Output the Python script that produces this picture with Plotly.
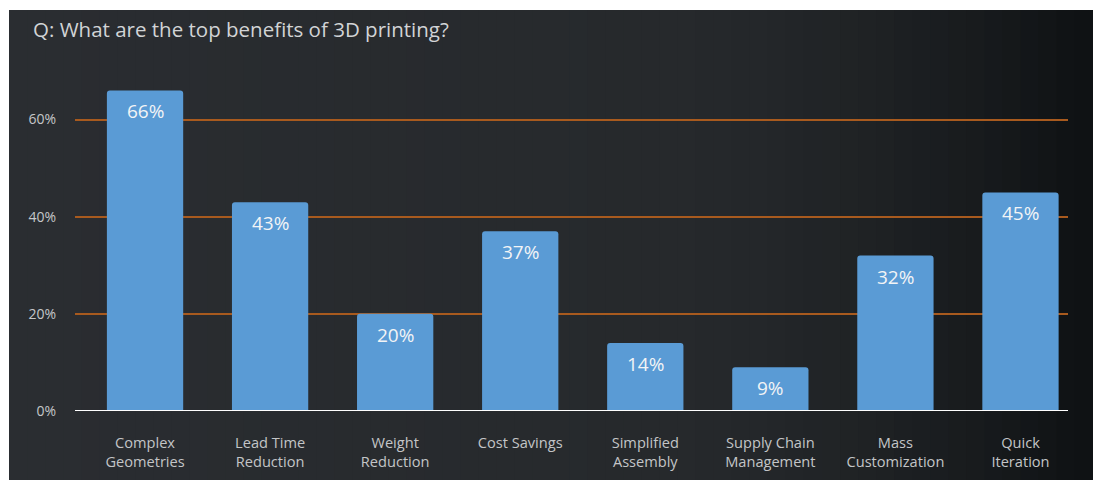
import plotly.graph_objects as go

categories = ["Complex<br>Geometries", "Lead Time<br>Reduction", "Weight<br>Reduction",
              "Cost Savings", "Simplified<br>Assembly", "Supply Chain<br>Management",
              "Mass<br>Customization", "Quick<br>Iteration"]
values = [66, 43, 20, 37, 14, 9, 32, 45]
value_labels = ["66%", "43%", "20%", "37%", "14%", "9%", "32%", "45%"]
y_ticks = [0, 20, 40, 60]
y_tick_labels = ["0%", "20%", "40%", "60%"]

W, H = 1093, 481
BAR = "#5a9bd5"

fig = go.Figure()
fig.add_trace(go.Bar(
    x=list(range(len(categories))), y=values,
    marker=dict(color=BAR, line=dict(width=0)),
    width=0.61, hoverinfo="skip",
))

# value labels inside bars near top
for i, (v, t) in enumerate(zip(values, value_labels)):
    fig.add_annotation(x=i, y=v, text=t, showarrow=False, yanchor="middle",
                       yshift=-21, font=dict(family="Open Sans", size=19, color="#f2f4f6"))

# background panel with horizontal gradient
def lerp(a, b, t):
    return tuple(int(round(a[k] + (b[k] - a[k]) * t)) for k in range(3))

left_c = (42, 45, 49)
mid_c = (38, 41, 44)
right_c = (14, 17, 19)
x0p, x1p = 9, 1093
n = 60
shapes = []
for k in range(n):
    xa = x0p + (x1p - x0p) * k / n
    t = (k + 0.5) / n
    if t < 0.6:
        c = lerp(left_c, mid_c, t / 0.6)
    else:
        c = lerp(mid_c, right_c, ((t - 0.6) / 0.4) ** 1.6)
    shapes.append(dict(type="rect", xref="paper", yref="paper",
                       x0=(xa - 75) / 993, x1=(x1p + 5 - 75) / 993,
                       y0=(411 - 480) / 340, y1=(411 - 10) / 340,
                       fillcolor="rgb(%d,%d,%d)" % c, line=dict(width=0), layer="below"))
shapes.append(dict(type="line", xref="paper", yref="y", x0=0, x1=1, y0=0, y1=0,
                   line=dict(color="#ffffff", width=2), layer="above"))

fig.update_layout(
    width=W, height=H,
    paper_bgcolor="#ffffff", plot_bgcolor="rgba(0,0,0,0)",
    margin=dict(l=75, r=25, t=71, b=70, autoexpand=False),
    showlegend=False,
    barcornerradius=3,
    shapes=shapes,
    title=dict(text="Q: What are the top benefits of 3D printing?",
               xref="container", yref="container", x=33 / W, xanchor="left",
               y=1 - 30 / H, yanchor="middle",
               font=dict(family="Open Sans", size=20.5, color="#d2d4d6")),
    xaxis=dict(range=[-0.56, 7.38], tickmode="array", tickvals=list(range(len(categories))),
               ticktext=categories, showgrid=False, zeroline=False, showline=False,
               ticks="", ticklabelstandoff=21, automargin=False,
               tickfont=dict(family="Open Sans", size=14.6, color="#c3c5c7")),
    yaxis=dict(range=[0, 70], tickmode="array", tickvals=y_ticks, ticktext=y_tick_labels,
               showgrid=True, gridcolor="#a85a1e", gridwidth=2, zeroline=False,
               showline=False, ticks="", ticklabelstandoff=18, automargin=False,
               tickfont=dict(family="Open Sans", size=14, color="#c5c7c9")),
)

fig.write_html("out.html")
